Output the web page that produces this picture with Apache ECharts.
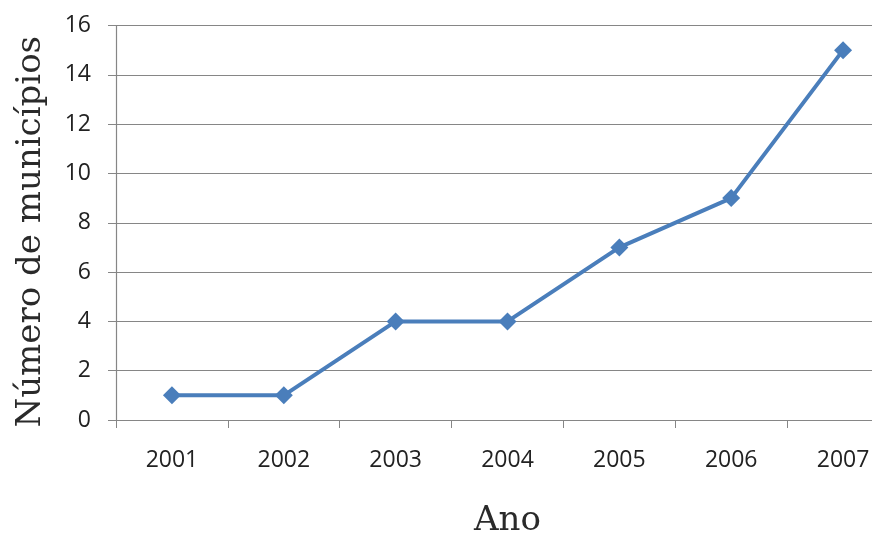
<!DOCTYPE html>
<html><head><meta charset="utf-8">
<script src="https://cdn.jsdelivr.net/npm/echarts@6/dist/echarts.min.js"></script>
<style>html,body{margin:0;padding:0;background:#fff}#c{width:872px;height:535px}</style>
</head><body><div id="c"></div>
<script>
const years = ['2001','2002','2003','2004','2005','2006','2007'];
const municipios = [1, 1, 4, 4, 7, 9, 15];
const yTicks = {min: 0, max: 16, interval: 2};

const chart = echarts.init(document.getElementById('c'), null, {renderer: 'canvas'});
chart.setOption({
  animation: false,
  backgroundColor: '#fff',
  grid: {left: 116, right: -27, top: 25.5, bottom: 115, containLabel: false, outerBoundsMode: 'none'},
  xAxis: {
    type: 'category', data: years, boundaryGap: true,
    name: 'Ano', nameLocation: 'middle', nameGap: 84,
    nameTextStyle: {fontFamily: 'DejaVu Serif', fontSize: 34, color: '#2a2a2a'},
    axisLine: {lineStyle: {color: '#868686', width: 1.2}},
    axisTick: {show: true, length: 8, lineStyle: {color: '#868686'}},
    axisLabel: {margin: 29, fontFamily: 'Open Sans', fontSize: 23, color: '#222'},
    splitLine: {show: false}
  },
  yAxis: {
    type: 'value', min: yTicks.min, max: yTicks.max, interval: yTicks.interval,
    name: 'Número de municípios', nameLocation: 'middle', nameGap: 68,
    nameTextStyle: {fontFamily: 'DejaVu Serif', fontSize: 34, color: '#2a2a2a', padding: [0, 18, 0, 0]},
    axisLine: {show: true, lineStyle: {color: '#868686', width: 1.2}},
    axisTick: {show: true, length: 8, lineStyle: {color: '#868686'}},
    axisLabel: {margin: 25, fontFamily: 'Open Sans', fontSize: 23, color: '#222'},
    splitLine: {show: true, lineStyle: {color: '#868686', width: 1.2}}
  },
  series: [{
    type: 'line', data: municipios,
    symbol: 'diamond', symbolSize: 18,
    lineStyle: {color: '#4a7ebb', width: 4},
    itemStyle: {color: '#4a7ebb'}
  }]
});
</script></body></html>
